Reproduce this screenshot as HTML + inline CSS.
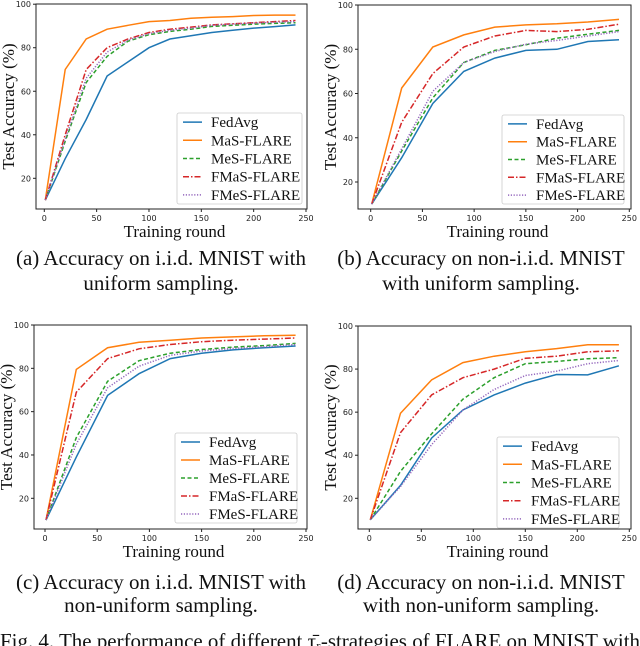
<!DOCTYPE html>
<html><head><meta charset="utf-8">
<style>
html,body{margin:0;padding:0;background:#fff;}
svg{display:block;}
.tick{font-family:"DejaVu Sans","Liberation Sans",sans-serif;font-size:8px;fill:#222;}
.ser{font-family:"Liberation Serif",serif;fill:#111;}
</style></head>
<body>
<svg id="fig" width="640" height="646" viewBox="0 0 640 646" xmlns="http://www.w3.org/2000/svg">
<text class="ser" x="161" y="265" font-size="21" text-anchor="middle">(a) Accuracy on i.i.d. MNIST with</text>
<text class="ser" x="161" y="290" font-size="21" text-anchor="middle">uniform sampling.</text>
<text class="ser" x="481" y="265" font-size="21" text-anchor="middle">(b) Accuracy on non-i.i.d. MNIST</text>
<text class="ser" x="481" y="290" font-size="21" text-anchor="middle">with uniform sampling.</text>
<text class="ser" x="161" y="589" font-size="21" text-anchor="middle">(c) Accuracy on i.i.d. MNIST with</text>
<text class="ser" x="161" y="612" font-size="21" text-anchor="middle">non-uniform sampling.</text>
<text class="ser" x="481" y="589" font-size="21" text-anchor="middle">(d) Accuracy on non-i.i.d. MNIST</text>
<text class="ser" x="481" y="612" font-size="21" text-anchor="middle">with non-uniform sampling.</text>
<text class="ser" x="0" y="648" font-size="21" textLength="640" lengthAdjust="spacingAndGlyphs">Fig. 4.  The performance of different τ̄ᵣ-strategies of FLARE on MNIST with</text>
</svg>
<script>
const seriesNames = ["FedAvg","MaS-FLARE","MeS-FLARE","FMaS-FLARE","FMeS-FLARE"];
const xTicks = [0,50,100,150,200,250];
const yTicks = [20,40,60,80,100];
const xsA = [1,20,40,60,80,100,120,140,160,180,200,220,240];
const aFedAvg = [10,29,47,67,73.5,80,84,85.5,87,88,89,89.7,90.5];
const aMaS = [10,70,84,88.5,90.3,92,92.5,93.5,94,94.3,94.8,95,95];
const aMeS = [10,37,64,76,83,86,87.5,88.5,89.8,90.3,90.8,91.2,91.5];
const aFMaS = [10,40,70,80,84,87,88.5,89.5,90.5,91,91.5,92,92.5];
const aFMeS = [10,38,66,78,83.5,86.5,88,89,90.3,90.8,91.3,91.7,92];
const xsB = [1,30,60,90,120,150,180,210,240];
const bFedAvg = [10,31,55.5,70,76,79.5,80,83.5,84.3];
const bMaS = [10,62.5,81,86.5,90,91,91.5,92.3,93.5];
const bMeS = [10,34,58,74,79.5,82,85,86.8,88.5];
const bFMaS = [10,47,69,81,86,88.5,88,89,91.3];
const bFMeS = [10,35,61,74,79,82.3,84,86,88];
const xsC = [1,30,60,90,120,150,180,210,240];
const cFedAvg = [10,39,67.5,77.5,84.5,87,88.5,89.5,90.3];
const cMaS = [10,79.5,89.5,92,93,94,94.5,95,95.3];
const cMeS = [10,48,74,83.5,87,88.7,89.8,90.5,91.5];
const cFMaS = [10,69,84.5,89,91,92.3,93,93.5,94];
const cFMeS = [10,45,71,81,86,88,89.2,90,91];
const xsD = [1,30,60,90,120,150,180,210,240];
const dFedAvg = [10,26,48,61,68,73.5,77.5,77.3,81.5];
const dMaS = [10,59.5,75,83,86,88,89.5,91.3,91.3];
const dMeS = [10,32.5,50,66,76,82.5,83.5,84.8,85.3];
const dFMaS = [10,50.5,68,76,80,85,86,88,88.5];
const dFMeS = [10,25.5,45,61,70.5,77,79,82.5,84];

const colors=["#1f77b4","#ff7f0e","#2ca02c","#d62728","#9467bd"];
const dashes=["","","4,2.5","6,2,1.5,2","1.2,1.6"];
const NS="http://www.w3.org/2000/svg";
const svg=document.getElementById('fig');
function mk(tag,attrs,parent){const e=document.createElementNS(NS,tag);for(const k in attrs)e.setAttribute(k,attrs[k]);(parent||svg).appendChild(e);return e;}

const panels=[
 {id:"a",box:[36,4,307,209],x0:44.3,x250:306,y100:4.2,y20:178.3,xs:xsA,data:[aFedAvg,aMaS,aMeS,aFMaS,aFMeS],leg:[177,113,302,204]},
 {id:"b",box:[358,5,631,209],x0:370.7,x250:629.3,y100:5,y20:182,xs:xsB,data:[bFedAvg,bMaS,bMeS,bFMaS,bFMeS],leg:[502,115,624,204]},
 {id:"c",box:[34,325,307,529],x0:45,x250:306,y100:325,y20:498.3,xs:xsC,data:[cFedAvg,cMaS,cMeS,cFMaS,cFMeS],leg:[175,433,297,523]},
 {id:"d",box:[358,326,631,529],x0:369.3,x250:629.3,y100:326,y20:498.3,xs:xsD,data:[dFedAvg,dMaS,dMeS,dFMaS,dFMeS],leg:[497,437,619,528]}
];
panels.forEach(p=>{
 const g=mk('g',{});
 
 
 const sx=v=>p.x0+(p.x250-p.x0)*v/250;
 const sy=v=>p.y20+(p.y100-p.y20)*(v-20)/80;
 const [L,T,R,B]=p.box;
 p.data.forEach((arr,i)=>{
  const pts=arr.map((v,j)=>sx(p.xs[j]).toFixed(1)+","+sy(v).toFixed(1)).join(" ");
  const pl=mk('polyline',{points:pts,fill:"none",stroke:colors[i],"stroke-width":1.5,"stroke-dasharray":dashes[i]||"none"},g);
  
  
 });
 const fr=mk('rect',{x:L,y:T,width:R-L,height:B-T,fill:"none",stroke:"#222","stroke-width":1},g);
 
 
 xTicks.forEach(t=>{
  const x=sx(t);
  mk('line',{x1:x,y1:B,x2:x,y2:B+3,stroke:"#222"},g);
  const tx=mk('text',{x:x,y:B+12,"text-anchor":"middle",class:"tick"},g);
  tx.textContent=t;
  
  
 });
 yTicks.forEach(t=>{
  const y=sy(t);
  mk('line',{x1:L-3,y1:y,x2:L,y2:y,stroke:"#222"},g);
  const tx=mk('text',{x:L-5,y:y+3,"text-anchor":"end",class:"tick"},g);
  tx.textContent=t;
  
  
 });
 const xl=mk('text',{x:(L+R)/2+3,y:B+28,"text-anchor":"middle",class:"ser","font-size":17},g);
 xl.textContent="Training round";
 
 
 const cy=(T+B)/2;
 const yl=mk('text',{x:0,y:0,"text-anchor":"middle",class:"ser","font-size":17,transform:`translate(${L-22},${cy}) rotate(-90)`},g);
 yl.textContent="Test Accuracy (%)";
 
 
 const [lx,ly,lr,lb]=p.leg;
 const lg=mk('g',{},g);
 
 
 mk('rect',{x:lx,y:ly,width:lr-lx,height:lb-ly,fill:"#fff","fill-opacity":0.85,stroke:"#ccc","stroke-width":0.8,rx:2},lg);
 const step=(lb-ly)/5;
 seriesNames.forEach((n,i)=>{
  const y=ly+step*(i+0.5);
  const e=mk('g',{},lg);
  
  
  mk('line',{x1:lx+6,y1:y,x2:lx+25,y2:y,stroke:colors[i],"stroke-width":1.5,"stroke-dasharray":dashes[i]||"none"},e);
  const t=mk('text',{x:lx+34,y:y+5,class:"ser","font-size":15},e);
  t.textContent=n;
 });
});
</script>
</body></html>
